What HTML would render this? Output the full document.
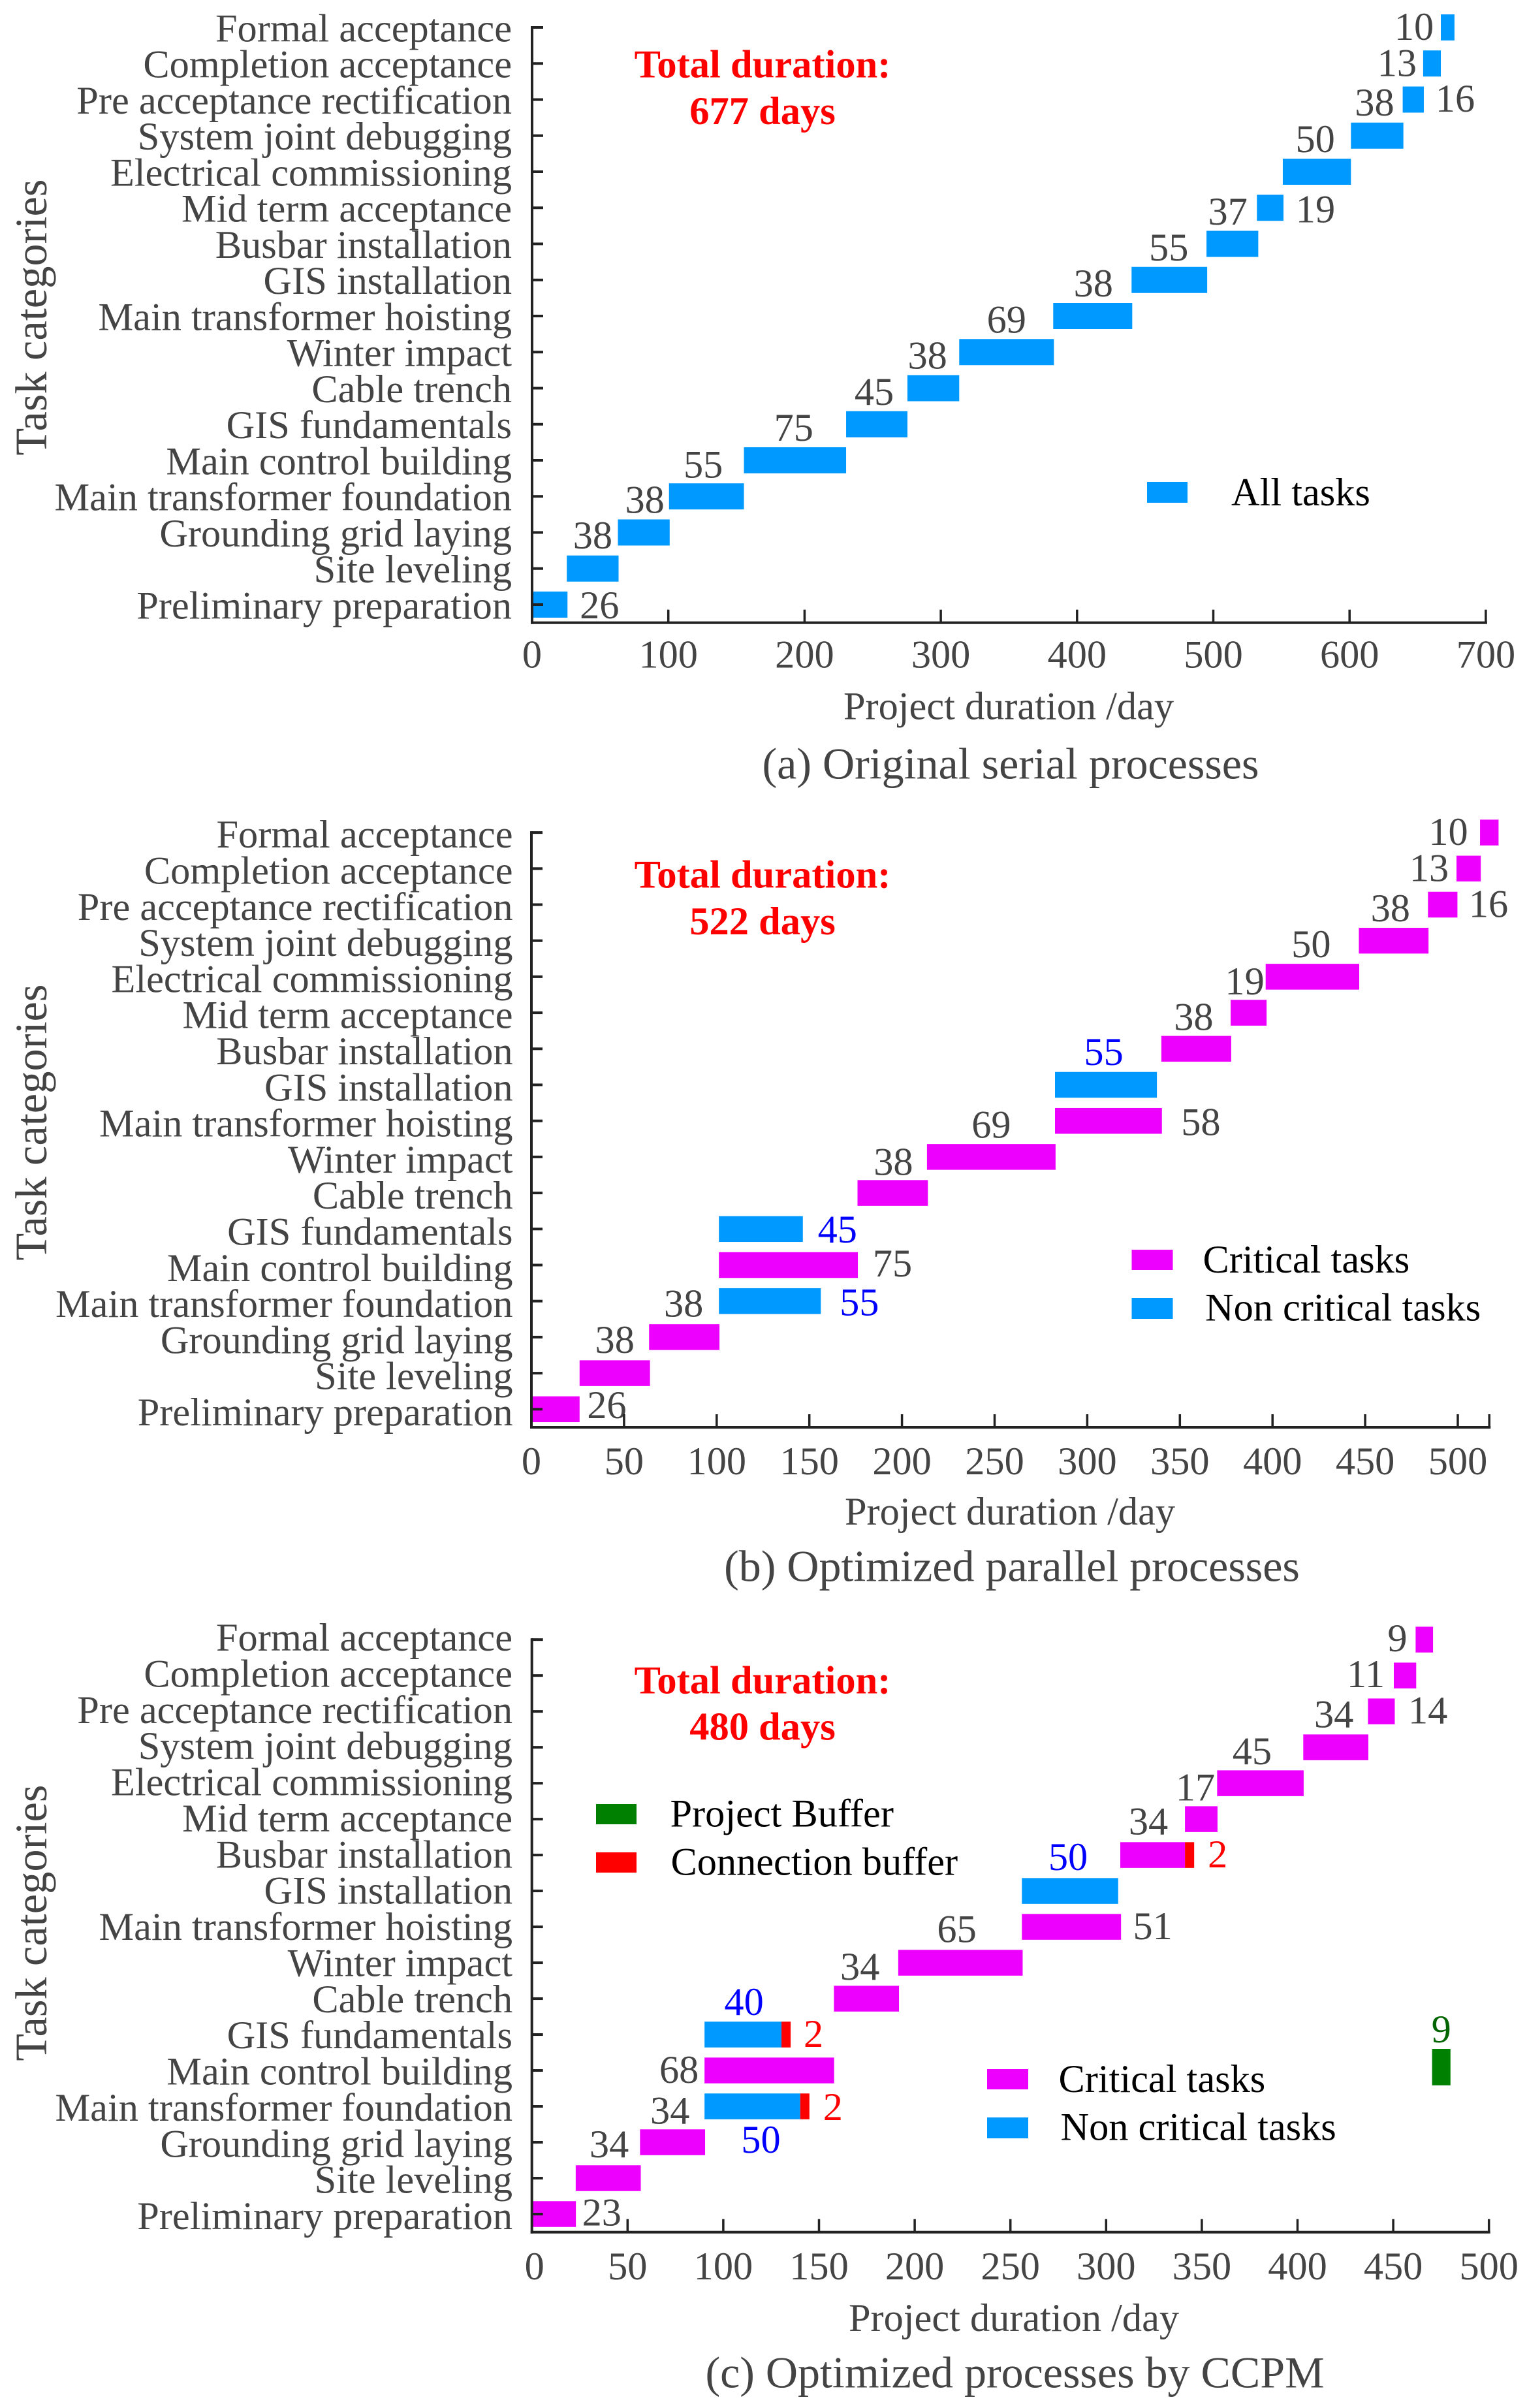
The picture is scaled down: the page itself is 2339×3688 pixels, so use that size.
<!DOCTYPE html>
<html lang="en">
<head>
<meta charset="utf-8">
<title>Project schedule comparison: serial, parallel and CCPM</title>
<style>
html,body{margin:0;padding:0;background:#fff}
svg{display:block}
text{font-family:"Liberation Serif","Times New Roman",serif}
</style>
</head>
<body>
<svg id="figure" xmlns="http://www.w3.org/2000/svg" width="2339" height="3688" viewBox="0 0 2339 3688">
<rect x="0" y="0" width="2339" height="3688" fill="#ffffff"/>
<g id="chart-a"></g>
<g id="chart-b"></g>
<g id="chart-c"></g>
</svg>
<script>
// Data (row 0 is the bottom row of each chart)
const categories = ["Preliminary preparation","Site leveling","Grounding grid laying","Main transformer foundation","Main control building","GIS fundamentals","Cable trench","Winter impact","Main transformer hoisting","GIS installation","Busbar installation","Mid term acceptance","Electrical commissioning","System joint debugging","Pre acceptance rectification","Completion acceptance","Formal acceptance"];

const ticksA = [0,100,200,300,400,500,600,700];
const startsA = [0,25.5,63,100.5,155.5,230.5,275.5,313.5,382.5,440,495,532,551,601,639,654,667];
const durationsA = [26,38,38,55,75,45,38,69.5,58,55.5,38,19.5,50,38.5,15.5,13,10];
const printedA = ["26","38","38","55","75","45","38","69","38","55","37","19","50","38","16","13","10"];
const kindsA = ["n","n","n","n","n","n","n","n","n","n","n","n","n","n","n","n","n"];

const ticksB = [0,50,100,150,200,250,300,350,400,450,500];
const startsB = [0,26,63.5,101.2,101.2,101.2,176,213.5,282.6,282.6,340,377.4,396.3,446.6,483.9,499.3,512];
const durationsB = [26,38,38,55,75,45.3,38,69.4,57.7,55,37.7,19.4,50.5,37.6,15.9,13.1,10];
const printedB = ["26","38","38","55","75","45","38","69","58","55","38","19","50","38","16","13","10"];
const kindsB = ["c","c","c","n","c","n","c","c","c","n","c","c","c","c","c","c","c"];

const ticksC = [0,50,100,150,200,250,300,350,400,450,500];
const startsC = [0,22.9,56.5,90.2,90.2,90.2,157.8,191.4,256,256,307.4,341.2,358,403,436.8,450.3,461.7];
const durationsC = [23,34,34,50,67.7,40.2,34,65,51.8,50.3,33.8,17,45.2,34,14,11.7,9.1];
const printedC = ["23","34","34","50","68","40","34","65","51","50","34","17","45","34","14","11","9"];
const kindsC = ["c","c","c","n","c","n","c","c","c","n","c","c","c","c","c","c","c"];
const connectionRows = [3,5,10];
const connectionDurations = [4.8,4.8,4.8];
const connectionPrinted = ["2","2","2"];
const projectBufferStart = [470.3];
const projectBufferDuration = [9.6];
const projectBufferPrinted = ["9"];

// Label placement relative to each bar: anchor (s = start, m = middle, e = end), then offsets
const placeA = [["e",49,21],["m",0,-31],["m",1.5,-30],["m",-5,-29],["m",-2,-30],["m",-4,-30],["m",-9,-30],["m",0,-30],["m",1,-30],["m",-1,-30],["m",-7,-29.5],["e",49,22],["m",-2.5,-30],["m",-4,-31],["e",48,18.7],["s",-40,19],["s",-41,19]];
const placeB = [["e",41.6,13.5],["m",0,-31],["m",-1,-31.5],["e",59,22],["e",53,17.4],["e",53,20.7],["m",1,-27.5],["m",0,-29.5],["e",59.6,21.7],["m",-3.5,-30.5],["m",-4,-29],["m",-6,-28],["m",-2,-30],["m",-5,-29.7],["e",47.6,19],["s",-42,19],["s",-48.5,19]];
const placeC = [["e",39.6,17.6],["m",1.4,-32.2],["m",-4,-28.6],["m",13,71],["s",-39,19],["m",1.5,-30],["m",-10,-29],["m",-5.6,-31.5],["e",48.5,18.8],["m",-3,-32],["m",-6.5,-31.4],["m",-9,-28.6],["m",-12.7,-29],["m",-3,-30.5],["e",50.7,18.6],["s",-43,18],["s",-28,18]];
const placeConn = [[36,21],[35,19],[36,19]];

const NS = "http://www.w3.org/2000/svg";
const FILL = {n:"#0099ff", c:"#ee00ff", red:"#ff0000", green:"#008000"};
const INK = "#444444", AXIS = "#222222", SIZE = 60.35;

function addRect(parent, x, y, w, h, fill, name) {
  const el = document.createElementNS(NS, "rect");
  el.setAttribute("x", x);
  el.setAttribute("y", y);
  el.setAttribute("width", w);
  el.setAttribute("height", h);
  el.setAttribute("fill", fill);
  
  
  parent.appendChild(el);
  return el;
}
function addText(parent, x, y, str, size, fill, anchor, name, weight) {
  const el = document.createElementNS(NS, "text");
  el.setAttribute("x", x);
  el.setAttribute("y", y);
  el.setAttribute("font-size", size);
  el.setAttribute("fill", fill);
  el.setAttribute("text-anchor", anchor);
  if (weight) el.setAttribute("font-weight", weight);
  
  
  el.textContent = str;
  parent.appendChild(el);
  return el;
}
function slug(s) { return s.toLowerCase().replace(/[^a-z0-9]+/g, "-"); }

function drawChart(o) {
  const g = document.getElementById(o.id);
  const xs = v => o.x0 + v * o.k;
  const ys = i => o.y0 - i * o.step;
  // bars
  o.starts.forEach((s, i) => {
    addRect(g, xs(s), ys(i) - o.barH / 2, o.durations[i] * o.k, o.barH, FILL[o.kinds[i]], "bar-" + slug(categories[i]));
  });
  // bar labels
  o.printed.forEach((t, i) => {
    const p = o.place[i];
    const a = xs(o.starts[i]), b = xs(o.starts[i] + o.durations[i]);
    const ref = p[0] === "s" ? a : p[0] === "e" ? b : (a + b) / 2;
    const col = o.blueLabels && o.kinds[i] === "n" ? "#0000ff" : INK;
    addText(g, ref + p[1], ys(i) + p[2], t, SIZE, col, "middle", "duration-label-" + slug(categories[i]));
  });
  // axes
  const axisEnd = xs(o.axisMax);
  addRect(g, o.x0 - 2, ys(categories.length - 1) - 2, 4, o.axisY - ys(categories.length - 1) + 4, AXIS, "y-axis-line");
  addRect(g, o.x0 - 2, o.axisY - 2, axisEnd - o.x0 + 4, 4, AXIS, "x-axis-line");
  categories.forEach((c, i) => {
    addRect(g, o.x0, ys(i) - 2, 17, 4, AXIS, "y-tick-" + slug(c));
    addText(g, o.labelRight, o.labelY0 - i * o.labelStep, c, SIZE, INK, "end", "y-label-" + slug(c));
  });
  o.ticks.forEach(v => {
    if (v !== 0) addRect(g, xs(v) - 1.75, o.axisY - 20, 3.5, 20, AXIS, "x-tick-" + v);
    addText(g, xs(v) + (v === 0 ? o.zeroShift : 0), o.tickBase, String(v), SIZE, INK, "middle", "x-tick-label-" + v);
  });
  if (o.axisMax !== o.ticks[o.ticks.length - 1]) addRect(g, axisEnd - 1.75, o.axisY - 20, 3.5, 20, AXIS, "x-tick-axis-end");
  // titles
  addText(g, o.xTitleX, o.xTitleY, "Project duration /day", SIZE, INK, "middle", "x-axis-title");
  addText(g, o.capX, o.capY, o.caption, 68, INK, "middle", "figure-caption");
  const yt = addText(g, 0, 0, "Task categories", 68.5, INK, "middle", "y-axis-title");
  yt.setAttribute("transform", "translate(71," + o.yTitleY + ") rotate(-90)");
  // total duration annotation
  addText(g, 1168, o.totalY1, "Total duration:", 60.5, "#ff0000", "middle", "total-duration-title", "bold");
  addText(g, 1168, o.totalY2, o.total, 60.5, "#ff0000", "middle", "total-duration-value", "bold");
  return {g, xs, ys};
}

drawChart({id:"chart-a", x0:815, k:2.087, y0:926, step:55.25, barH:40, axisY:953.7, axisMax:700,
  starts:startsA, durations:durationsA, printed:printedA, kinds:kindsA, place:placeA, ticks:ticksA, blueLabels:false,
  labelRight:784, labelY0:947.3, labelStep:55.25, zeroShift:0, tickBase:1022.7,
  xTitleX:1545, xTitleY:1101.7, capX:1548, capY:1192.7, caption:"(a) Original serial processes",
  yTitleY:486, totalY1:118.6, totalY2:190, total:"677 days"});

drawChart({id:"chart-b", x0:814, k:2.838, y0:2158.3, step:55.2, barH:39.5, axisY:2186, axisMax:517,
  starts:startsB, durations:durationsB, printed:printedB, kinds:kindsB, place:placeB, ticks:ticksB, blueLabels:true,
  labelRight:785.5, labelY0:2183, labelStep:55.3, zeroShift:0, tickBase:2258,
  xTitleX:1547, xTitleY:2335, capX:1550, capY:2421.5, caption:"(b) Optimized parallel processes",
  yTitleY:1719, totalY1:1359.6, totalY2:1431, total:"522 days"});

const chartC = drawChart({id:"chart-c", x0:814.7, k:2.932, y0:3391, step:54.99, barH:39.5, axisY:3418.7, axisMax:500,
  starts:startsC, durations:durationsC, printed:printedC, kinds:kindsC, place:placeC, ticks:ticksC, blueLabels:true,
  labelRight:785, labelY0:3414, labelStep:55.375, zeroShift:4, tickBase:3491,
  xTitleX:1553, xTitleY:3570, capX:1554.5, capY:3656.5, caption:"(c) Optimized processes by CCPM",
  yTitleY:2945, totalY1:2593.5, totalY2:2664.6, total:"480 days"});

// Connection buffers attached to the end of their task bars (chart c)
connectionRows.forEach((row, i) => {
  const sx = chartC.xs(startsC[row] + durationsC[row]);
  const ex = chartC.xs(startsC[row] + durationsC[row] + connectionDurations[i]);
  addRect(chartC.g, sx, chartC.ys(row) - 19.75, ex - sx, 39.5, FILL.red, "connection-buffer-" + slug(categories[row]));
  addText(chartC.g, ex + placeConn[i][0], chartC.ys(row) + placeConn[i][1], connectionPrinted[i], SIZE, "#ff0000", "middle", "connection-buffer-label-" + slug(categories[row]));
});
// Project buffer (chart c)
const pbx = chartC.xs(projectBufferStart[0]);
addRect(chartC.g, pbx, 3138, projectBufferDuration[0] * 2.932, 55.8, FILL.green, "project-buffer-bar");
addText(chartC.g, pbx + projectBufferDuration[0] * 2.932 / 2, 3128, projectBufferPrinted[0], SIZE, "#006400", "middle", "project-buffer-label");

// Legends
function legend(id, name, rx, ry, rw, rh, fill, tx, ty, label) {
  const g = document.getElementById(id);
  addRect(g, rx, ry, rw, rh, fill, name + "-swatch");
  addText(g, tx, ty, label, SIZE, "#000000", "start", name + "-label");
}
legend("chart-a", "legend-all-tasks", 1757, 738, 62, 32, FILL.n, 1886, 774, "All tasks");
legend("chart-b", "legend-critical-tasks", 1733.5, 1914, 63, 31, FILL.c, 1842.5, 1949, "Critical tasks");
legend("chart-b", "legend-non-critical-tasks", 1733.5, 1988, 63, 32, FILL.n, 1846, 2022.4, "Non critical tasks");
legend("chart-c", "legend-project-buffer", 913, 2763, 62, 31, FILL.green, 1026.5, 2797.7, "Project Buffer");
legend("chart-c", "legend-connection-buffer", 913, 2837, 62, 31, FILL.red, 1027.5, 2871.6, "Connection buffer");
legend("chart-c", "legend-critical-tasks", 1512, 3169, 63, 31, FILL.c, 1621.5, 3204, "Critical tasks");
legend("chart-c", "legend-non-critical-tasks", 1512, 3243, 63, 32, FILL.n, 1624.5, 3277.4, "Non critical tasks");
</script>
</body>
</html>
